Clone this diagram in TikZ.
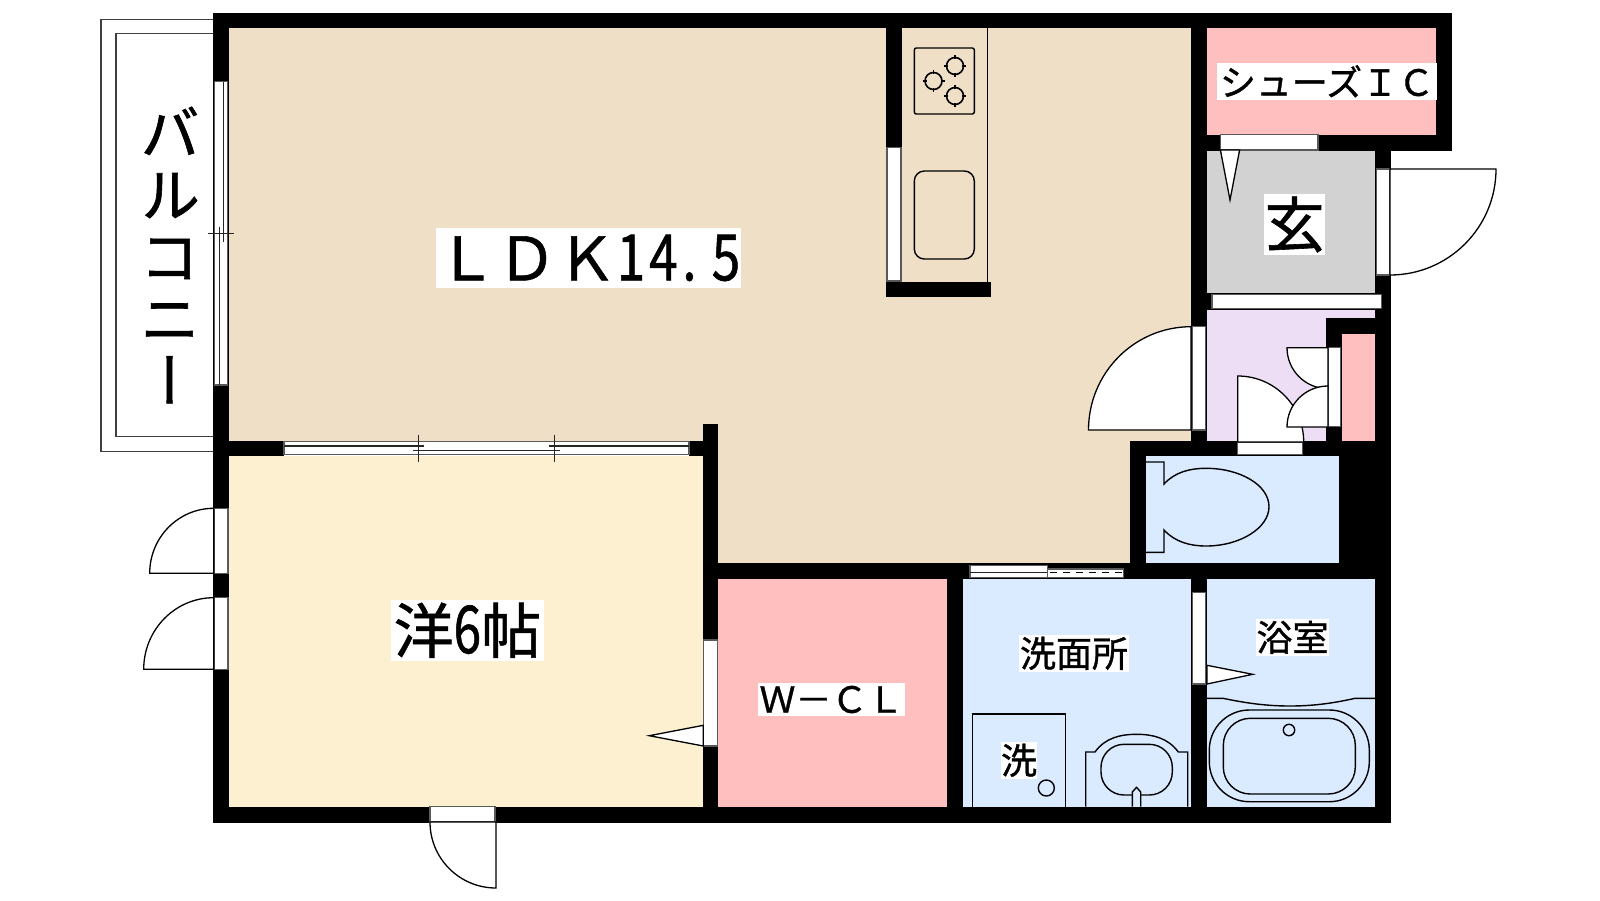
\documentclass[tikz,border=0pt]{standalone}
\usepackage{graphicx}
\usepackage{fontspec}
\setmainfont{Noto Sans CJK JP}[FakeBold=1]
\newfontfamily\tatefont{Noto Sans CJK JP}[RawFeature=+vert,FakeBold=1]
\definecolor{ldkbeige}{HTML}{EFDFC6}
\definecolor{youcream}{HTML}{FDF0D0}
\definecolor{closetpink}{HTML}{FFBFBF}
\definecolor{wetblue}{HTML}{DBEBFF}
\definecolor{hallpurple}{HTML}{EDDEF5}
\definecolor{entrygray}{HTML}{D2D2D2}
\begin{document}
\begin{tikzpicture}[x=1pt, y=-1pt, wall/.style={fill=black, draw=none}, sash/.style={fill=white, draw=black!65, line width=1.2pt}, leaf/.style={fill=white, draw=black, line width=1.3pt, line join=miter}, fitting/.style={draw=black, line width=1.4pt}, glazing/.style={draw=black!85, line width=1.2pt}, roomlabel/.style={fill=white, inner sep=0pt, text=black}]
	\useasboundingbox (0,0) rectangle (1600,900);
	\fill[ldkbeige] (229,28) rectangle (1191,441);
	\fill[ldkbeige] (718,441) rectangle (1130,563);
	\fill[youcream] (229,456) rectangle (703,806.7);
	\fill[closetpink] (718,579) rectangle (947,806.7);
	\fill[closetpink] (1207,28) rectangle (1436,135);
	\fill[entrygray] (1207,151) rectangle (1375,293);
	\fill[hallpurple] (1207,310) rectangle (1375,441);
	\fill[closetpink] (1342,334) rectangle (1375,441);
	\fill[wetblue] (1146,456) rectangle (1339,563);
	\fill[wetblue] (963,579) rectangle (1191,806.7);
	\fill[wetblue] (1207,579) rectangle (1375,806.7);
	\draw[black!75, line width=1.3pt] (213,19.3) -- (101,19.3) -- (101,451.7) -- (213,451.7);
	\draw[black!75, line width=1.3pt] (213,33.3) -- (116,33.3) -- (116,436.7) -- (213,436.7);
	\fill[wall] (213,13) rectangle (1452,28);
	\fill[wall] (213,13) rectangle (229,822.7);
	\fill[wall] (213,806.7) rectangle (1391,822.7);
	\fill[wall] (1436,13) rectangle (1452,151);
	\fill[wall] (1191,135) rectangle (1452,151);
	\fill[wall] (1191,13) rectangle (1207,441);
	\fill[wall] (1375,151) rectangle (1391,822.7);
	\fill[wall] (886,28) rectangle (902,148);
	\fill[wall] (886,282) rectangle (991.4,296.7);
	\fill[wall] (229,441) rectangle (284,456);
	\fill[wall] (689,441) rectangle (703,456);
	\fill[wall] (702.5,424) rectangle (718,822.7);
	\fill[wall] (703,563) rectangle (1391,579);
	\fill[wall] (947,563) rectangle (963,806.7);
	\fill[wall] (1191,563) rectangle (1207,806.7);
	\fill[wall] (1130,441) rectangle (1391,456);
	\fill[wall] (1130,441) rectangle (1146,579);
	\fill[wall] (1339,456) rectangle (1391,563);
	\fill[wall] (1207,293) rectangle (1391,310);
	\fill[wall] (1326,318) rectangle (1375,334);
	\fill[wall] (1326,318) rectangle (1342,441);
	\draw[sash] (214.3,81.7) rectangle (227.7,385);
	\draw[glazing] (223.3,81.7) -- (223.3,241.7);
	\draw[glazing] (219.3,226.7) -- (219.3,385);
	\draw[glazing] (207.7,233.3) -- (234.3,233.3);
	\draw[sash] (283.9,441.5) rectangle (689,454.5);
	\draw[glazing] (283.9,446) -- (424.3,446);
	\draw[glazing] (413.3,450.7) -- (560,450.7);
	\draw[glazing] (549,446) -- (689,446);
	\foreach \tickx in {418.6,554.5} {
		\draw[glazing] (\tickx,434.7) -- (\tickx,462.3);
	}
	\draw[sash] (887,147.7) rectangle (901,281);
	\draw[sash] (1220.4,134.5) rectangle (1318,150);
	\draw[sash] (1212,294.5) rectangle (1381.6,308.5);
	\draw[sash] (1376.3,169) rectangle (1389.4,275);
	\draw[sash] (1192.7,326.7) rectangle (1205.3,430);
	\draw[sash] (1328,347.7) rectangle (1340.7,426.7);
	\draw[sash] (1237.7,442.7) rectangle (1302.7,454.3);
	\draw[sash] (970,565.7) rectangle (1047.3,577.7);
	\draw[glazing] (970,572.7) -- (1047.3,572.7);
	\draw[sash] (1047.3,569) rectangle (1123.3,577.7);
	\draw[black, line width=1.2pt, dash pattern=on 6.5pt off 6.5pt] (1050,572.4) -- (1123.3,572.4);
	\draw[sash] (1192.3,592.3) rectangle (1205.3,684);
	\draw[sash] (703.3,640) rectangle (717.7,746);
	\draw[sash] (214,508.3) rectangle (228,573.3);
	\draw[sash] (214,597.7) rectangle (228,669.3);
	\draw[sash] (430,806.7) rectangle (495,822);
	\draw[leaf] (213.7,573.3) -- (213.7,508.3) arc[start angle=90, end angle=180, x radius=64pt, y radius=65pt] -- cycle;
	\draw[leaf] (213.7,669.3) -- (213.7,597.7) arc[start angle=90, end angle=180, x radius=70pt, y radius=71.6pt] -- cycle;
	\draw[leaf] (496,822) -- (430,822) arc[start angle=180, end angle=270, radius=66pt] -- cycle;
	\draw[leaf] (1191,430) -- (1191,326.7) arc[start angle=90, end angle=180, x radius=102.5pt, y radius=103.3pt] -- cycle;
	\draw[leaf] (1390,169) -- (1496,169) arc[start angle=0, end angle=-90, radius=106pt] -- cycle;
	\draw[leaf] (1237.7,442) -- (1237.7,376) arc[start angle=90, end angle=0, radius=66pt] -- cycle;
	\draw[leaf] (1328,347.7) -- (1287,347.7) arc[start angle=180, end angle=270, radius=41pt] -- cycle;
	\draw[leaf] (1328,427) -- (1287,427) arc[start angle=180, end angle=90, radius=41pt] -- cycle;
	\draw[leaf] (1220.4,150) -- (1239.6,150) -- (1230,200) -- cycle;
	\draw[leaf] (703.3,725.3) -- (649.3,735.7) -- (703.3,746) -- cycle;
	\draw[leaf] (1207,665.3) -- (1252.7,674.3) -- (1207,684) -- cycle;
	\draw[fitting] (987.3,28) -- (987.3,282);
	\draw[fitting, rounded corners=2pt] (914.3,48) rectangle (974.3,114);
	\draw[fitting, rounded corners=10pt] (914.3,171) rectangle (974.3,259);
	\foreach \bx/\by in {933.5/81,955/66,955/96} {
		\draw[fitting, line width=1.6pt] (\bx,\by) circle[radius=8.5pt];
		\draw[fitting] (\bx-11,\by) -- (\bx-7,\by) (\bx+7,\by) -- (\bx+11,\by) (\bx,\by-11) -- (\bx,\by-7) (\bx,\by+7) -- (\bx,\by+11);
	}
	\draw[fitting] (1146,462) -- (1164,462) -- (1164,484) .. controls (1175,472) and (1190,468.3) .. (1206,468.3) .. controls (1240,468.3) and (1269,485) .. (1269,506.7) .. controls (1269,528) and (1240,546) .. (1206,546) .. controls (1190,546) and (1175,542) .. (1164,530) -- (1164,552.3) -- (1146,552.3);
	\draw[fitting] (972.3,806.7) -- (972.3,714) -- (1065.7,714) -- (1065.7,806.7);
	\draw[fitting] (1046.3,788) circle[radius=8pt];
	\draw[fitting] (1085.7,806.7) -- (1085.7,752) -- (1095,752) .. controls (1105,738) and (1120,734.3) .. (1136.7,734.3) .. controls (1153,734.3) and (1168,738) .. (1178.3,752) -- (1187.7,752) -- (1187.7,806.7);
	\draw[fitting, rounded corners=23pt] (1101,744.3) rectangle (1172.3,795);
	\draw[fitting, fill=wetblue] (1132.3,806.7) -- (1132.3,792) -- (1136.5,787.3) -- (1140.7,792) -- (1140.7,806.7);
	\draw[fitting] (1207,698.3) -- (1223,698.3) .. controls (1250,704) and (1270,706) .. (1290,706) .. controls (1310,706) and (1330,704) .. (1355,698.3) -- (1375,698.3);
	\draw[fitting, rounded corners=40pt] (1209.3,710) rectangle (1369.3,801.7);
	\draw[fitting, rounded corners=27pt] (1223.3,718.3) rectangle (1355.3,794);
	\draw[fitting] (1289,730) circle[radius=5.7pt];
	\node[roomlabel, font=\fontsize{60}{60}\selectfont, minimum width=305pt, minimum height=60pt] (ldk) at (588.5,258) {ＬＤＫ\scalebox{.8}[1]{\fontsize{64}{64}\selectfont 1\kern5pt 4\kern6pt .\kern19pt 5}};
	\node[roomlabel, font=\fontsize{60}{60}\selectfont, minimum width=153pt, minimum height=60.7pt] (you) at (467.4,630.3) {洋\scalebox{.75}[1]{\fontsize{66}{66}\selectfont 6}帖};
	\node[roomlabel, font=\fontsize{36}{36}\selectfont, minimum width=147pt, minimum height=33pt] (wcl) at (831.5,699.5) {Ｗ－ＣＬ};
	\node[roomlabel, font=\fontsize{36}{36}\selectfont, minimum width=220pt, minimum height=37.3pt] (shoes) at (1327,81.3) {シューズＩＣ};
	\node[roomlabel, font=\fontsize{60}{60}\selectfont, minimum width=61pt, minimum height=61pt] (genkan) at (1294.5,224.5) {玄};
	\node[roomlabel, font=\fontsize{36}{36}\selectfont, minimum width=110pt, minimum height=36.7pt] (senmen) at (1074,653.3) {洗面所};
	\node[roomlabel, font=\fontsize{36}{36}\selectfont, minimum width=73pt, minimum height=36.7pt] (yoku) at (1292.5,637.3) {浴室};
	\node[roomlabel, font=\fontsize{36}{36}\selectfont, minimum width=36pt, minimum height=36.7pt] (sen) at (1019,760.3) {洗};
	\node[align=center, inner sep=0pt, font=\tatefont\fontsize{60}{62}\selectfont] (balcony) at (170,255) {バ\\ル\\コ\\ニ\\ー};
\end{tikzpicture}
\end{document}
